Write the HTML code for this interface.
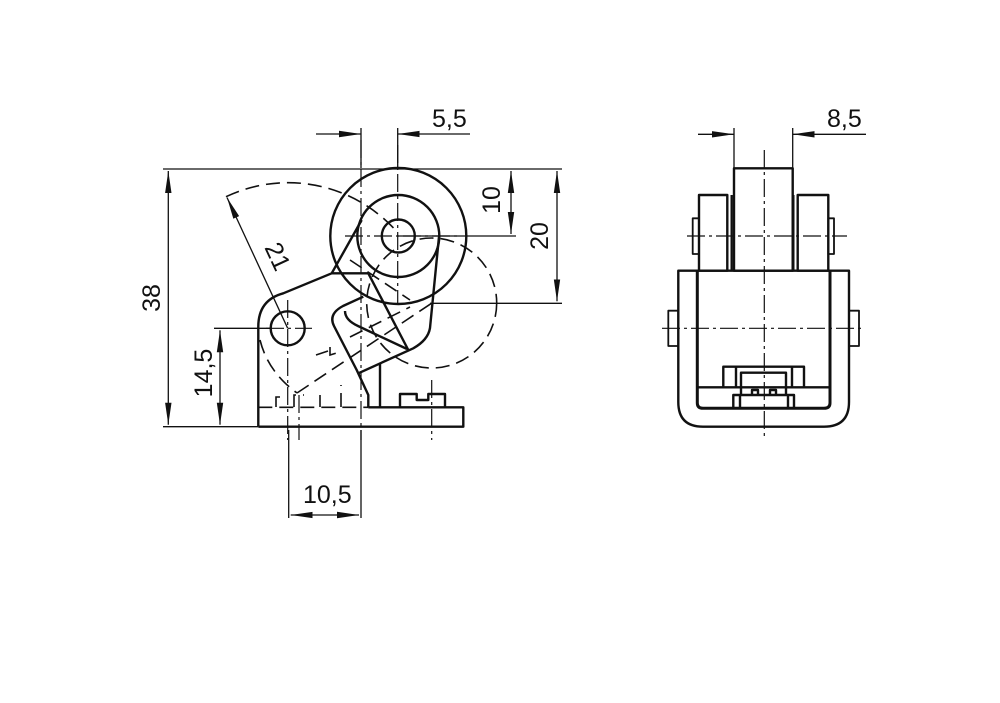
<!DOCTYPE html>
<html><head><meta charset="utf-8"><style>
html,body{margin:0;padding:0;background:#fff;}
svg{display:block;}
text{font-family:"Liberation Sans",sans-serif;font-size:25px;fill:#111;}
</style></head><body>
<svg width="1000" height="703" viewBox="0 0 1000 703" xmlns="http://www.w3.org/2000/svg">
<defs>
<marker id="a" viewBox="0 0 10 10" preserveAspectRatio="none" refX="10" refY="5" markerWidth="22" markerHeight="8" markerUnits="userSpaceOnUse" orient="auto-start-reverse"><path d="M0,1 L10,5 L0,9 z" fill="#111"/></marker>
</defs>
<g fill="none" stroke="#111" stroke-width="1.3">
<line x1="163" y1="169" x2="562" y2="169"/>
<line x1="163" y1="426.7" x2="258" y2="426.7"/>
<line x1="168.3" y1="171" x2="168.3" y2="424.7" marker-start="url(#a)" marker-end="url(#a)"/>
<line x1="214" y1="328.3" x2="270" y2="328.3"/>
<line x1="220" y1="330.3" x2="220" y2="424.7" marker-start="url(#a)" marker-end="url(#a)"/>
<line x1="398" y1="236" x2="516" y2="236"/>
<line x1="511" y1="171" x2="511" y2="234" marker-start="url(#a)" marker-end="url(#a)"/>
<line x1="430" y1="303.3" x2="562" y2="303.3"/>
<line x1="557" y1="171" x2="557" y2="301.3" marker-start="url(#a)" marker-end="url(#a)"/>
<line x1="361" y1="128" x2="361" y2="168"/>
<line x1="397.7" y1="128" x2="397.7" y2="168"/>
<line x1="316" y1="134" x2="361" y2="134" marker-end="url(#a)"/>
<line x1="470" y1="134" x2="397.7" y2="134" marker-end="url(#a)"/>
<line x1="288.7" y1="430" x2="288.7" y2="518"/>
<line x1="361" y1="430" x2="361" y2="518"/>
<line x1="324" y1="515" x2="290.7" y2="515" marker-end="url(#a)"/>
<line x1="324" y1="515" x2="359" y2="515" marker-end="url(#a)"/>
<line x1="287.7" y1="328.3" x2="227" y2="197.5" marker-end="url(#a)"/>
<line x1="734" y1="128" x2="734" y2="168"/>
<line x1="792.7" y1="128" x2="792.7" y2="168"/>
<line x1="698" y1="134.3" x2="734" y2="134.3" marker-end="url(#a)"/>
<line x1="866" y1="134.3" x2="792.7" y2="134.3" marker-end="url(#a)"/>
</g>
<g fill="none" stroke="#111" stroke-width="1.6" stroke-dasharray="14 7">
<path d="M226,196.7 A145,145 0 0 1 398,233"/>
<circle cx="431.7" cy="303" r="65"/>
<path d="M260,340 Q268,372 297,393"/>
<line x1="297" y1="393" x2="432" y2="303"/>
<line x1="258.3" y1="407.3" x2="368.3" y2="407.3"/>
<path d="M276,407 v-10 h8 M294,407 v-12 h10 M320,407 v-12 M341,407 v-22"/>
<path d="M316,355 l12,-4 M330,347 v8 l10,-3 M350,337 l60,-30"/>
<line x1="350" y1="260" x2="410" y2="300"/>
</g>
<g fill="none" stroke="#111" stroke-width="1.2" stroke-dasharray="18 4 3 4">
<line x1="361" y1="140" x2="361" y2="440"/>
<line x1="397.7" y1="145" x2="397.7" y2="305"/>
<line x1="345" y1="236" x2="460" y2="236"/>
<line x1="287.7" y1="300" x2="287.7" y2="440"/>
<line x1="266" y1="328.3" x2="312" y2="328.3"/>
<line x1="299" y1="395" x2="299" y2="440"/>
<line x1="431.7" y1="380" x2="431.7" y2="440"/>
<line x1="764.3" y1="150" x2="764.3" y2="437"/>
<line x1="687" y1="236" x2="847" y2="236"/>
<line x1="662" y1="328.3" x2="865" y2="328.3"/>
</g>
<g fill="none" stroke="#111" stroke-width="2.4" stroke-linejoin="round">
<circle cx="398.3" cy="236" r="68"/>
<circle cx="398.3" cy="236" r="41"/>
<circle cx="398.3" cy="236" r="16.5"/>
<circle cx="287.7" cy="328.3" r="17"/>
<path d="M258.3,426.7 L258.3,326.7 Q258.3,300 283.3,293.3 L331.7,273.3 L361.7,220"/>
<line x1="331.7" y1="273.3" x2="368.3" y2="273.3"/>
<line x1="368.3" y1="273.3" x2="408.3" y2="350"/>
<path d="M439,236.7 L430,328 Q428,340 413.3,348.3 L358.3,373.3"/>
<path d="M363.3,296.7 L343,306 Q328,314 334,326 L356.7,370 L368.3,395 L368.3,407.3"/>
<path d="M345,311 Q345,320 358,326 L407,349"/>
<line x1="380" y1="363.3" x2="380" y2="407.3"/>
<path d="M258.3,426.7 L463.3,426.7 L463.3,407.3 L368.3,407.3"/>
<path d="M400,407.3 L400,394 L416.7,394 L416.7,400 L428.3,400 L428.3,394 L445,394 L445,407.3"/>
<rect x="734" y="168.3" width="58.7" height="102.4"/>
<rect x="699" y="195" width="28.3" height="75.7"/>
<line x1="731.7" y1="195" x2="731.7" y2="270.7"/>
<rect x="797.7" y="195" width="30.6" height="75.7"/>
<line x1="793.3" y1="195" x2="793.3" y2="270.7"/>
<rect x="692.7" y="218.3" width="6.3" height="35.7" stroke-width="1.8"/>
<rect x="828.3" y="218.3" width="5.7" height="35.7" stroke-width="1.8"/>
<path d="M678.3,270.7 L849,270.7 L849,402 Q849,426.7 824,426.7 L703,426.7 Q678.3,426.7 678.3,402 Z"/>
<path d="M697.3,270.7 L697.3,403 Q697.3,408.3 703,408.3 L824,408.3 Q830,408.3 830,403 L830,270.7" stroke-width="3"/>
<rect x="668.3" y="310.7" width="10" height="35.3" stroke-width="1.8"/>
<rect x="849" y="310.7" width="10" height="35.3" stroke-width="1.8"/>
<line x1="697.3" y1="387.3" x2="830" y2="387.3"/>
<path d="M723.3,387.3 V366.7 H804 V387.3"/>
<path d="M736,387.3 V366.7 M792,387.3 V366.7"/>
<path d="M741,395 V372.7 H786 V395"/>
<path d="M733.3,408.3 V395 H794 V408.3 M740,408.3 V395 M788,408.3 V395"/>
<path d="M752,395 V390 H758 V395 M770,395 V390 H776 V395"/>
</g>
<text x="432" y="127">5,5</text>
<text x="827" y="127">8,5</text>
<text x="303" y="503">10,5</text>
<text transform="translate(160,298) rotate(-90)" text-anchor="middle">38</text>
<text transform="translate(212,373) rotate(-90)" text-anchor="middle">14,5</text>
<text transform="translate(500,200) rotate(-90)" text-anchor="middle">10</text>
<text transform="translate(548,236) rotate(-90)" text-anchor="middle">20</text>
<text transform="translate(270,260) rotate(65)" text-anchor="middle">21</text>
</svg>
</body></html>
